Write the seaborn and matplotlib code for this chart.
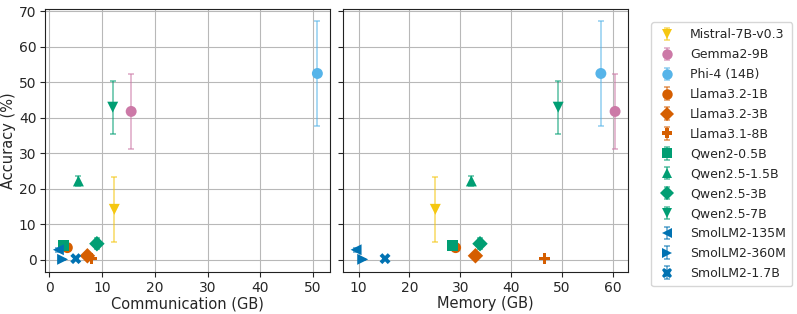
import matplotlib
matplotlib.use("Agg")
import matplotlib.pyplot as plt
import seaborn as sns
import pandas as pd
from matplotlib.lines import Line2D
from matplotlib.legend_handler import HandlerTuple

models = ["Mistral-7B-v0.3", "Gemma2-9B", "Phi-4 (14B)", "Llama3.2-1B", "Llama3.2-3B",
          "Llama3.1-8B", "Qwen2-0.5B", "Qwen2.5-1.5B", "Qwen2.5-3B", "Qwen2.5-7B",
          "SmolLM2-135M", "SmolLM2-360M", "SmolLM2-1.7B"]
communication = [12.3, 15.5, 50.8, 3.4, 7.2, 8.0, 2.7, 5.5, 9.0, 12.0, 1.7, 2.5, 5.0]
memory = [25.1, 60.5, 57.7, 29.1, 33.0, 46.6, 28.4, 32.2, 33.9, 49.3, 9.5, 10.8, 15.2]
accuracy = [14.2, 41.8, 52.5, 3.4, 1.1, 0.3, 4.0, 22.2, 4.5, 43.0, 2.8, 0.1, 0.3]
acc_err = [9.1, 10.6, 14.7, 0.5, 0.4, 0.2, 0.5, 1.4, 1.5, 7.5, 0.6, 0.1, 0.2]
markers = ["v", "o", "o", "o", "D", "P", "s", "^", "D", "v", "<", ">", "X"]
colors = ["#F5C710", "#CC79A7", "#56B4E9", "#D55E00", "#D55E00", "#D55E00",
          "#009E73", "#009E73", "#009E73", "#009E73", "#0072B2", "#0072B2", "#0072B2"]

df = pd.DataFrame({"model": models, "comm": communication, "mem": memory,
                   "acc": accuracy, "err": acc_err})

sns.set_style("ticks")
plt.rcParams["font.family"] = ["DejaVu Sans"]

fig, axes = plt.subplots(1, 2, figsize=(7.97, 3.14), dpi=100, sharey=True)
fig.subplots_adjust(left=0.057, right=0.788, bottom=0.135, top=0.97, wspace=0.045)

handles = []
for ax, col, xlabel in zip(axes, ["comm", "mem"], ["Communication (GB)", "Memory (GB)"]):
    ax.grid(True, color="#b8b8b8", linewidth=0.8)
    ax.set_axisbelow(True)
    hs = []
    for i, row in df.iterrows():
        eb = ax.errorbar(row[col], row["acc"], yerr=row["err"], fmt="none",
                         ecolor=colors[i], alpha=0.6, capsize=2, elinewidth=1.2,
                         capthick=1.2, zorder=2)
        sns.scatterplot(x=[row[col]], y=[row["acc"]], marker=markers[i], color=colors[i],
                        s=62, edgecolor="none", ax=ax, legend=False, zorder=3)
        m = Line2D([], [], marker=markers[i], color=colors[i], linestyle="none",
                   markersize=7.5, markeredgewidth=0)
        hs.append((eb, m))
    handles = hs
    ax.set_xlabel(xlabel, fontsize=10.5, labelpad=1)
    ax.tick_params(labelsize=10, length=3.5, width=0.8, pad=3)
    for s in ax.spines.values():
        s.set_color("#222222")

axes[0].set_ylabel("Accuracy (%)", fontsize=10.5, labelpad=2)
axes[0].set_yticks([0, 10, 20, 30, 40, 50, 60, 70])
axes[0].set_xticks([0, 10, 20, 30, 40, 50])
axes[1].set_xticks([10, 20, 30, 40, 50, 60])

axes[1].legend(handles, models, handler_map={tuple: HandlerTuple(ndivide=1)},
               loc="upper left", bbox_to_anchor=(1.06, 0.975), fontsize=9,
               frameon=True, labelspacing=0.55, handlelength=1.5, handletextpad=1.1,
               borderpad=0.5)

fig.savefig("out.png", dpi=100)
